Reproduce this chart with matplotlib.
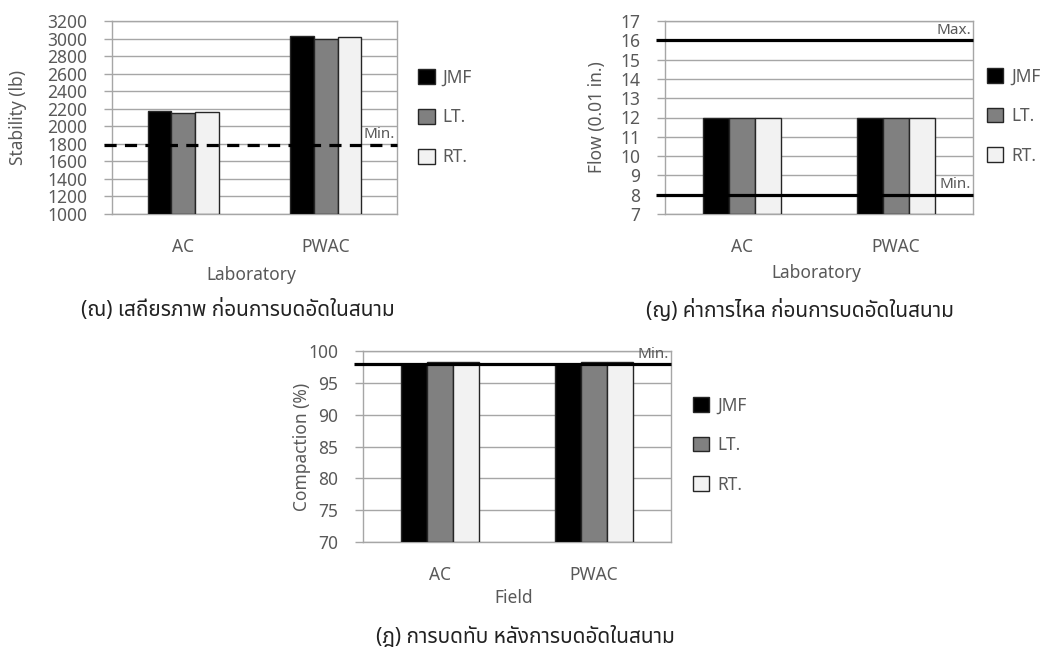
import matplotlib
matplotlib.use("Agg")
import matplotlib.pyplot as plt
import matplotlib.transforms as mtransforms
from matplotlib import font_manager
from matplotlib.ft2font import FT2Font
import numpy as np

# ---------------- data ----------------
categories = ["AC", "PWAC"]
series_names = ["JMF", "LT.", "RT."]

stability_jmf = [2170, 3028]
stability_lt = [2155, 2998]
stability_rt = [2165, 3014]
stability_min = 1790
stability_ticks = list(range(1000, 3201, 200))

flow_jmf = [12, 12]
flow_lt = [12, 12]
flow_rt = [12, 12]
flow_min = 8
flow_max = 16
flow_ticks = list(range(7, 18, 1))

compaction_jmf = [98.0, 98.0]
compaction_lt = [98.2, 98.2]
compaction_rt = [98.2, 98.2]
compaction_min = 97.9
compaction_ticks = list(range(70, 101, 5))

caption_a = "(ณ) เสถียรภาพ ก่อนการบดอัดในสนาม"
caption_b = "(ญ) ค่าการไหล ก่อนการบดอัดในสนาม"
caption_c = "(ฎ) การบดทับ หลังการบดอัดในสนาม"

# ---------------- font ----------------
pref = ["Noto Sans Thai", "Noto Sans Thai UI", "Anuphan", "Sarabun", "IBM Plex Sans Thai",
        "Prompt", "Kanit"]
thai_fams = set()
for f in font_manager.fontManager.ttflist:
    try:
        cm = FT2Font(f.fname).get_charmap()
        if 0x0E13 in cm and 0x0E0E in cm:
            thai_fams.add(f.name)
    except Exception:
        pass
thai_font = None
for p in pref:
    if p in thai_fams:
        thai_font = p
        break
if thai_font is None and thai_fams:
    thai_font = sorted(thai_fams)[0]
fams = ([thai_font] if thai_font else []) + ["DejaVu Sans"]
plt.rcParams["font.family"] = fams

W, H = 1044, 650
fig = plt.figure(figsize=(W / 100, H / 100), dpi=100)

TXT = "#595959"
GRID = "#A6A6A6"
colors = ["#000000", "#808080", "#F2F2F2"]
FS = 12.5


def make_ax(left, right, top, bottom):
    return fig.add_axes([left / W, 1 - bottom / H, (right - left) / W, (bottom - top) / H])


def draw(ax, vals, ticks, ylabel, xlabel, lines, ylab_x, xlab_y, leg_anchor, dashed=False):
    x = np.arange(len(categories))
    bw = 0.167
    for i, (v, c, n) in enumerate(zip(vals, colors, series_names)):
        ax.bar(x + (i - 1) * bw, np.array(v) - ticks[0], bw, bottom=ticks[0], color=c,
               edgecolor="#262626", linewidth=1.0, label=n, zorder=3)
    ax.set_xlim(-0.5, len(categories) - 0.5)
    ax.set_ylim(ticks[0], ticks[-1])
    ax.set_yticks(ticks)
    ax.set_xticks(x)
    ax.set_xticklabels(categories)
    ax.yaxis.grid(True, color=GRID, linewidth=1.0, zorder=0)
    ax.set_axisbelow(True)
    for s in ax.spines.values():
        s.set_color(GRID)
        s.set_linewidth(1.0)
    ax.tick_params(axis="y", colors=GRID, labelcolor=TXT, length=8 * 0.72, width=1.0,
                   labelsize=FS, pad=12)
    ax.tick_params(axis="x", length=0, labelcolor=TXT, labelsize=FS, pad=17)
    ax.set_ylabel(ylabel, color=TXT, fontsize=FS, va="center")
    ax.yaxis.set_label_coords(ylab_x, 0.5)
    ax.set_xlabel(xlabel, color=TXT, fontsize=FS, va="center")
    ax.xaxis.set_label_coords(0.49, xlab_y)
    trans = mtransforms.blended_transform_factory(ax.transAxes, ax.transData)
    for yv, name in lines:
        ls = (0, (3.8, 2.6)) if dashed else "-"
        ax.plot([-0.028, 1.0], [yv, yv], transform=trans, color="black", linewidth=2.3,
                linestyle=ls, clip_on=False, zorder=5, solid_capstyle="butt")
        ax.text(0.993, yv, name, transform=mtransforms.offset_copy(trans, fig=fig, y=2,
                units="points"), ha="right", va="bottom", color=TXT, fontsize=11, zorder=6)
    ax.legend(loc="center left", bbox_to_anchor=leg_anchor, frameon=False, fontsize=FS,
              handlelength=0.95, handleheight=0.95, labelspacing=1.25, handletextpad=0.45,
              borderpad=0, borderaxespad=0, labelcolor=TXT)


ax1 = make_ax(112, 397, 21, 214)
draw(ax1, [stability_jmf, stability_lt, stability_rt], stability_ticks, "Stability (lb)",
     "Laboratory", [(stability_min, "Min.")], -0.33, -0.316, (1.074, 0.5), dashed=True)

ax2 = make_ax(665, 973, 21, 214)
draw(ax2, [flow_jmf, flow_lt, flow_rt], flow_ticks, "Flow (0.01 in.)", "Laboratory",
     [(flow_max, "Max."), (flow_min, "Min.")], -0.22, -0.305, (1.045, 0.508))

ax3 = make_ax(363, 671, 351, 542)
draw(ax3, [compaction_jmf, compaction_lt, compaction_rt], compaction_ticks, "Compaction (%)",
     "Field", [(compaction_min, "Min.")], -0.198, -0.293, (1.071, 0.508))

fig.text(238 / W, 1 - 310 / H, caption_a, ha="center", va="center", fontsize=15, color="#222222")
fig.text(800 / W, 1 - 310 / H, caption_b, ha="center", va="center", fontsize=15, color="#222222")
fig.text(525 / W, 1 - 637 / H, caption_c, ha="center", va="center", fontsize=15, color="#222222")

fig.savefig("out.png", dpi=100)
